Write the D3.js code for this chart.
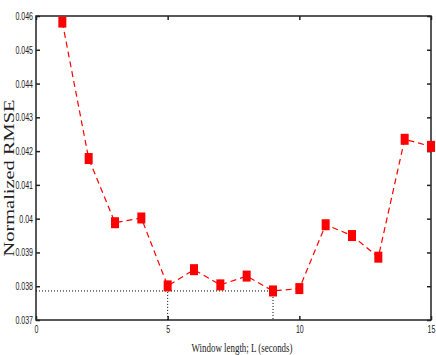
<!DOCTYPE html>
<html><head><meta charset="utf-8">
<script src="https://cdn.jsdelivr.net/npm/d3@7"></script>
<style>body{margin:0;background:#fff}</style>
</head><body>
<svg id="c" width="436" height="355"></svg>
<script>
const windowLength = [1,2,3,4,5,6,7,8,9,10,11,12,13,14,15];
const rmse = [0.04582,0.04178,0.03988,0.04002,0.03801,0.03849,0.03804,0.03830,0.03786,0.03793,0.03982,0.03950,0.03886,0.04235,0.04214];
const xTicks = [0,5,10,15];
const yTicks = [0.037,0.038,0.039,0.040,0.041,0.042,0.043,0.044,0.045,0.046];
const yTickLabels = ["0.037","0.038","0.039","0.04","0.041","0.042","0.043","0.044","0.045","0.046"];
const minIndex = 8; // L = 9
const secondIndex = 4; // L = 5

const svg = d3.select("#c");
const L = 36, R = 431, T = 16, B = 320;
const x = d3.scaleLinear().domain([0,15]).range([L,R]);
const y = d3.scaleLinear().domain([0.037,0.046]).range([B,T]);

svg.append("rect").attr("x",L).attr("y",T).attr("width",R-L).attr("height",B-T)
  .attr("fill","none").attr("stroke","#222").attr("stroke-width",1.5);

const tickFont = "Liberation Sans, Arial, sans-serif";
const yAxL = svg.append("g").attr("transform",`translate(${L},0)`)
  .call(d3.axisLeft(y).tickValues(yTicks).tickSize(-4).tickPadding(3).tickFormat((d,i)=>yTickLabels[i]));
const yAxR = svg.append("g").attr("transform",`translate(${R},0)`)
  .call(d3.axisRight(y).tickValues(yTicks).tickSize(-4).tickFormat(""));
const xAxB = svg.append("g").attr("transform",`translate(0,${B})`)
  .call(d3.axisBottom(x).tickValues(xTicks).tickSize(-4).tickPadding(5).tickFormat(d3.format("d")));
const xAxT = svg.append("g").attr("transform",`translate(0,${T})`)
  .call(d3.axisTop(x).tickValues(xTicks).tickSize(-4).tickFormat(""));
[yAxL,yAxR,xAxB,xAxT].forEach(g=>{
  g.select(".domain").remove();
  g.selectAll(".tick line").attr("stroke","#222").attr("stroke-width",1.5);
  g.selectAll("text").attr("font-family",tickFont).attr("font-size",11).attr("fill","#222")
    .each(function(){
      const w = this.getComputedTextLength();
      d3.select(this).attr("textLength", w*0.64).attr("lengthAdjust","spacingAndGlyphs");
    });
});
xAxB.selectAll("text").attr("dy","0.71em");

const g9 = [windowLength[minIndex], rmse[minIndex]];
const g5 = [windowLength[secondIndex], rmse[secondIndex]];
svg.append("line").attr("x1",L).attr("x2",x(g9[0])).attr("y1",y(g9[1])).attr("y2",y(g9[1]))
  .attr("stroke","#000").attr("stroke-dasharray","1,2").attr("stroke-width",1);
[g5,g9].forEach(p=>{
  svg.append("line").attr("x1",x(p[0])).attr("x2",x(p[0])).attr("y1",y(p[1])).attr("y2",B)
    .attr("stroke","#000").attr("stroke-dasharray","1,2").attr("stroke-width",1);
});

const line = d3.line().x((d,i)=>x(windowLength[i])).y(d=>y(d));
svg.append("path").datum(rmse).attr("d",line).attr("fill","none")
  .attr("stroke","#ff0000").attr("stroke-width",1.2).attr("stroke-dasharray","6,4");

svg.selectAll("rect.m").data(rmse).enter().append("rect").attr("class","m")
  .attr("x",(d,i)=>x(windowLength[i])-4).attr("y",d=>y(d)-5.5)
  .attr("width",8).attr("height",11).attr("fill","#ff0000");

svg.append("text").attr("x",242).attr("y",352).attr("text-anchor","middle")
  .attr("font-family","Liberation Serif, Times New Roman, serif").attr("font-size",12)
  .attr("textLength",101).attr("lengthAdjust","spacingAndGlyphs")
  .attr("fill","#222").text("Window length; L (seconds)");
svg.append("text").attr("transform",`translate(14,178) rotate(-90)`).attr("text-anchor","middle")
  .attr("font-family","Liberation Serif, Times New Roman, serif").attr("font-size",15)
  .attr("textLength",157).attr("lengthAdjust","spacingAndGlyphs")
  .attr("fill","#222").text("Normalized RMSE");
</script>
</body></html>
